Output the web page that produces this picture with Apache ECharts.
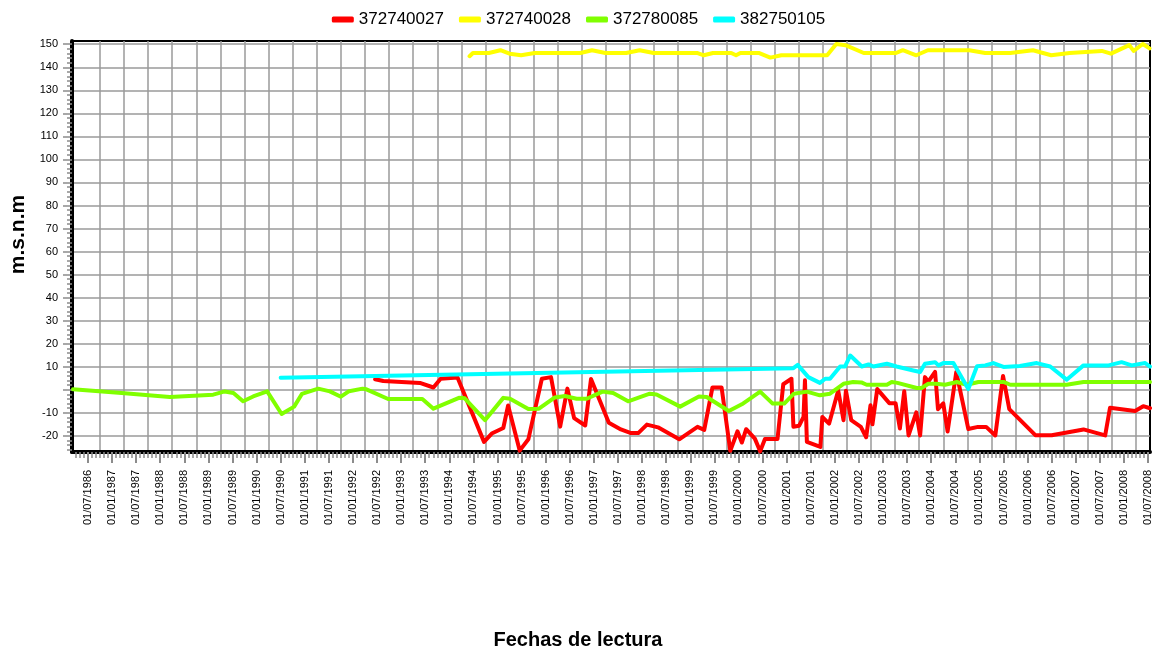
<!DOCTYPE html>
<html>
<head>
<meta charset="utf-8">
<script src="https://cdn.jsdelivr.net/npm/echarts@6/dist/echarts.min.js"></script>
<style>
  html, body { margin: 0; padding: 0; background: #fff; }
  #chart { width: 1157px; height: 666px; }
</style>
</head>
<body>
<div id="chart"></div>
<script>
// nombres de los piezometros y colores
const names = ['372740027', '372740028', '372780085', '382750105'];
const colors = ['#ff0000', '#ffff00', '#80ff00', '#00ffff'];

// lecturas: [año decimal, m.s.n.m]
const s372740027 = [
  [1992.46, 4.6], [1992.63, 3.8], [1993.39, 3.0], [1993.67, 1.0], [1993.82, 4.8], [1994.17, 5.3],
  [1994.72, -22.6], [1994.88, -19.0], [1995.12, -16.6], [1995.22, -6.8], [1995.46, -26.4], [1995.64, -21.5],
  [1995.92, 4.8], [1996.11, 5.5], [1996.30, -16.0], [1996.45, 0.5], [1996.59, -12.3], [1996.82, -15.5],
  [1996.94, 4.7], [1997.31, -14.3], [1997.56, -17.2], [1997.77, -18.8], [1997.92, -18.8], [1998.10, -15.1],
  [1998.33, -16.3], [1998.77, -21.5], [1999.15, -16.1], [1999.29, -17.4], [1999.46, 1.0], [1999.65, 1.0],
  [1999.83, -26.5], [1999.98, -18.0], [2000.07, -22.9], [2000.16, -17.1], [2000.34, -21.2], [2000.45, -26.7],
  [2000.55, -21.4], [2000.81, -21.4], [2000.93, 2.4], [2001.10, 4.8], [2001.14, -16.0], [2001.26, -15.6],
  [2001.35, -11.8], [2001.38, 4.1], [2001.42, -22.6], [2001.70, -24.8], [2001.74, -11.8], [2001.88, -14.7],
  [2002.07, -0.3], [2002.18, -13.2], [2002.23, -0.4], [2002.34, -13.2], [2002.54, -16.1], [2002.65, -20.6],
  [2002.74, -6.7], [2002.78, -15.0], [2002.88, 0.3], [2003.13, -5.8], [2003.26, -5.8], [2003.35, -16.8],
  [2003.44, -0.6], [2003.53, -19.8], [2003.69, -9.8], [2003.77, -19.8], [2003.87, 5.5], [2003.94, 3.5],
  [2004.08, 7.8], [2004.14, -8.4], [2004.25, -5.9], [2004.34, -18.1], [2004.52, 7.7], [2004.77, -17.0],
  [2004.97, -16.1], [2005.14, -16.1], [2005.33, -19.8], [2005.49, 6.0], [2005.62, -8.4], [2006.16, -19.7],
  [2006.50, -19.7], [2007.16, -17.2], [2007.61, -19.8], [2007.71, -7.8], [2008.23, -9.2], [2008.40, -7.1],
  [2008.54, -8.0]
];
const s372740028 = [
  [1994.42, 144.8], [1994.49, 146.2], [1994.82, 146.2], [1995.06, 147.4], [1995.25, 145.9], [1995.49, 145.2],
  [1995.77, 146.2], [1996.72, 146.2], [1996.96, 147.4], [1997.24, 146.2], [1997.67, 146.2], [1997.95, 147.4],
  [1998.24, 146.2], [1999.14, 146.2], [1999.28, 145.2], [1999.47, 146.2], [1999.85, 146.2], [1999.95, 145.2],
  [2000.04, 146.2], [2000.42, 146.2], [2000.66, 144.2], [2000.89, 145.2], [2001.84, 145.2], [2002.03, 150.1],
  [2002.22, 149.6], [2002.60, 146.2], [2003.27, 146.2], [2003.41, 147.4], [2003.69, 145.2], [2003.93, 147.4],
  [2004.79, 147.4], [2005.12, 146.2], [2005.64, 146.2], [2006.11, 147.4], [2006.49, 145.2], [2006.87, 146.2],
  [2007.54, 147.1], [2007.73, 145.9], [2008.11, 149.6], [2008.20, 147.1], [2008.39, 150.1], [2008.53, 148.2]
];
const s372780085 = [
  [1986.19, 0.2], [1987.20, -1.4], [1988.20, -3.1], [1989.10, -2.1], [1989.34, -0.7], [1989.52, -1.4],
  [1989.72, -5.0], [1989.93, -2.9], [1990.22, -0.7], [1990.52, -10.5], [1990.78, -7.3], [1990.94, -1.8],
  [1991.28, 0.5], [1991.52, -0.7], [1991.75, -3.0], [1991.92, -0.6], [1992.20, 0.5], [1992.28, 0.2],
  [1992.73, -4.0], [1993.44, -4.0], [1993.67, -8.2], [1994.20, -3.5], [1994.32, -3.7], [1994.74, -13.2],
  [1995.12, -3.5], [1995.26, -3.9], [1995.64, -8.3], [1995.86, -8.2], [1996.19, -3.3], [1996.40, -2.7],
  [1996.64, -3.9], [1996.85, -3.9], [1997.18, -0.8], [1997.40, -1.4], [1997.71, -5.0], [1998.16, -1.7],
  [1998.30, -2.0], [1998.79, -7.3], [1999.18, -2.9], [1999.34, -3.1], [1999.80, -9.2], [2000.07, -6.3],
  [2000.45, -0.8], [2000.71, -6.0], [2000.95, -6.0], [2001.15, -1.7], [2001.42, -0.8], [2001.69, -2.4],
  [2001.90, -1.7], [2002.18, 2.6], [2002.38, 3.4], [2002.55, 3.2], [2002.66, 2.2], [2003.08, 2.2],
  [2003.18, 3.4], [2003.30, 3.0], [2003.70, 0.8], [2003.80, 0.8], [2003.94, 2.6], [2004.10, 2.6],
  [2004.29, 2.2], [2004.53, 3.4], [2004.74, 2.2], [2004.98, 3.4], [2005.50, 3.4], [2005.64, 2.2],
  [2006.81, 2.2], [2007.16, 3.4], [2008.54, 3.4]
];
const s382750105 = [
  [1990.50, 5.2], [2001.14, 9.4], [2001.23, 10.8], [2001.45, 5.5], [2001.69, 3.0], [2001.80, 4.8],
  [2001.90, 4.8], [2002.11, 10.1], [2002.21, 10.1], [2002.32, 14.9], [2002.56, 10.1], [2002.70, 11.0],
  [2002.80, 10.1], [2003.08, 11.3], [2003.28, 10.1], [2003.63, 8.4], [2003.77, 7.7], [2003.87, 11.3],
  [2004.08, 12.0], [2004.15, 10.6], [2004.25, 11.6], [2004.46, 11.6], [2004.77, 0.3], [2004.95, 10.2],
  [2005.12, 10.6], [2005.29, 11.6], [2005.50, 9.9], [2005.84, 10.3], [2006.19, 11.6], [2006.47, 10.1],
  [2006.81, 4.4], [2007.16, 10.6], [2007.68, 10.6], [2007.95, 12.0], [2008.16, 10.6], [2008.44, 11.6],
  [2008.54, 10.1]
];

// ejes
const XMIN = 1986.17, XMAX = 2008.54;
const YMIN = -27, YMAX = 151.4;
const yLabels = [-20, -10, 10, 20, 30, 40, 50, 60, 70, 80, 90, 100, 110, 120, 130, 140, 150];
const yMajor = [-20, -10, 0, 10, 20, 30, 40, 50, 60, 70, 80, 90, 100, 110, 120, 130, 140, 150];
const yMinor = [];
for (let v = -26; v <= 150; v += 2) yMinor.push(v);
// etiquetas cada 6 meses (01/01 y 01/07), rejilla desplazada 3 meses, marcas mensuales
const labelYears = [];
for (let k = 0; k <= 44; k++) labelYears.push(1986.5 + k * 0.5);
const gridYears = [];
for (let k = 0; k < 44; k++) gridYears.push(1986.75 + k * 0.5);
const monthYears = [];
for (let m = 3; m <= 270; m++) monthYears.push(1986 + m / 12);

function fmtDate(v) {
  const y = Math.floor(v + 1e-6);
  return (v - y > 0.25 ? '01/07/' : '01/01/') + y;
}

const seriesData = [s372740027, s372740028, s372780085, s382750105];

const chart = echarts.init(document.getElementById('chart'));

const tickGray = '#8c8c8c';
const xBase = { type: 'value', min: XMIN, max: XMAX, position: 'bottom', gridIndex: 0 };
const yBase = { type: 'value', min: YMIN, max: YMAX, position: 'left', gridIndex: 0 };

chart.setOption({
  animation: false,
  textStyle: { fontFamily: 'Liberation Sans, Arial, sans-serif' },
  legend: {
    top: 6,
    left: 'center',
    icon: 'roundRect',
    itemWidth: 22,
    itemHeight: 6,
    itemGap: 15,
    textStyle: { fontSize: 17, color: '#000' },
    data: names
  },
  grid: {
    left: 72, right: 7, top: 41, bottom: 214,
    show: true, borderColor: '#000', borderWidth: 2,
    outerBoundsMode: 'none'
  },
  xAxis: [
    Object.assign({}, xBase, {
      name: 'Fechas de lectura',
      nameLocation: 'middle',
      nameGap: 178,
      nameTextStyle: { fontSize: 20, fontWeight: 'bold', color: '#000', padding: [0, 66, 0, 0] },
      axisLine: { show: true, onZero: false, lineStyle: { color: '#000', width: 4 } },
      axisTick: { show: true, customValues: labelYears, length: 11, lineStyle: { color: tickGray, width: 2 } },
      axisLabel: { customValues: labelYears, formatter: fmtDate, rotate: 90, margin: 18, fontSize: 11, color: '#000' },
      splitLine: { show: false }
    }),
    Object.assign({}, xBase, {
      axisLine: { show: false, onZero: false },
      axisTick: { show: false, customValues: gridYears },
      axisLabel: { show: false },
      splitLine: { show: true, lineStyle: { color: '#9a9a9a', width: 1.5 } }
    }),
    Object.assign({}, xBase, {
      axisLine: { show: false, onZero: false },
      axisTick: { show: true, customValues: monthYears, length: 6, lineStyle: { color: tickGray, width: 1.5 } },
      axisLabel: { show: false },
      splitLine: { show: false }
    })
  ],
  yAxis: [
    Object.assign({}, yBase, {
      name: 'm.s.n.m',
      nameLocation: 'middle',
      nameGap: 28,
      nameTextStyle: { fontSize: 21, fontWeight: 'bold', color: '#000', padding: [0, 0, 0, 24] },
      axisLine: { show: true, onZero: false, lineStyle: { color: '#000', width: 4 } },
      axisTick: { show: true, customValues: yMajor, length: 9, lineStyle: { color: tickGray, width: 1.5 } },
      axisLabel: { customValues: yLabels, margin: 14, fontSize: 11, color: '#000' },
      splitLine: { show: true, lineStyle: { color: '#9a9a9a', width: 1.5 } }
    }),
    Object.assign({}, yBase, {
      axisLine: { show: false, onZero: false },
      axisTick: { show: true, customValues: yMinor, length: 5, lineStyle: { color: tickGray, width: 1.5 } },
      axisLabel: { show: false },
      splitLine: { show: false }
    })
  ],
  series: names.map((n, i) => ({
    name: n,
    type: 'line',
    xAxisIndex: 0,
    yAxisIndex: 0,
    data: seriesData[i],
    showSymbol: false,
    symbol: 'none',
    color: colors[i],
    lineStyle: { color: colors[i], width: 4, join: 'round', cap: 'round' },
    z: 3 + i
  }))
});
</script>
</body>
</html>
